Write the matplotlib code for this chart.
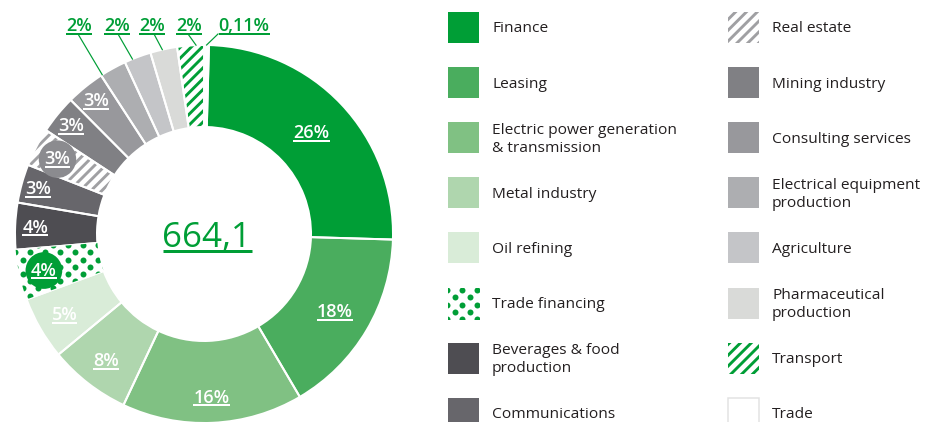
import numpy as np
import matplotlib.pyplot as plt
from matplotlib.patches import Rectangle

W, H, DPI = 926, 422, 130

# sectors in chart order, clockwise from the top
sectors = ["Finance", "Leasing", "Electric power generation\n& transmission", "Metal industry",
           "Oil refining", "Trade financing", "Beverages & food\nproduction", "Communications",
           "Real estate", "Mining industry", "Consulting services",
           "Electrical equipment\nproduction", "Agriculture", "Pharmaceutical\nproduction",
           "Transport", "Trade"]
pct_labels = ["26%", "18%", "16%", "8%", "5%", "4%", "4%", "3%", "3%", "3%", "3%",
              "2%", "2%", "2%", "2%", "0,11%"]
# slice sizes as drawn in the picture (% of the circle)
shares = [25.1, 16.1, 15.5, 7.0, 5.4, 4.3, 4.0, 3.3, 3.3, 3.3, 3.3, 2.3, 2.3, 2.3, 2.3, 0.4]
total = "664,1"

GREEN = "#009e36"
face = [GREEN, "#4aad5e", "#80c183", "#afd6ae", "#d9ecd8", "white", "#4e4d52", "#67666b",
        "white", "#808084", "#98989c", "#adaeb1", "#c4c5c8", "#d9dad8", "white", "white"]
hatch = [None] * 16
hatch[8] = "////"
hatch[14] = "////"
hatch_col = ["none"] * 16
hatch_col[8] = "#a0a0a3"
hatch_col[14] = GREEN

plt.rcParams['font.family'] = ['Open Sans', 'DejaVu Sans']
plt.rcParams['hatch.linewidth'] = 1.6


def Y(y):
    # picture rows (from top) -> axis coords (from bottom)
    return H - y


def px(p):
    return p * 72 / DPI


fig = plt.figure(figsize=(W / DPI, H / DPI), dpi=DPI)
ax = fig.add_axes([0, 0, 1, 1])

cx, cy = 204, Y(234)
r_out, ring = 189, 82
start = 88.5

wedges, _ = ax.pie(shares, colors=face, center=(cx, cy), radius=r_out, startangle=start,
                   counterclock=False, wedgeprops=dict(width=ring, linewidth=0))
for w, h, hc in zip(wedges, hatch, hatch_col):
    w.set_edgecolor(hc)
    w.set_linewidth(0)
    if h:
        w.set_hatch(h)
# white separators
ax.pie(shares, center=(cx, cy), radius=r_out, startangle=start, counterclock=False,
       wedgeprops=dict(width=ring, fill=False, edgecolor="white", linewidth=px(2)))

ax.set_xlim(0, W)
ax.set_ylim(0, H)
ax.set_aspect('auto')
ax.axis('off')


def dot_fill(patch, x0, x1, y0, y1):
    xs, ys = [], []
    for i, yy in enumerate(np.arange(y0, y1, 7.2)):
        shift = 7.5 if i % 2 else 0
        for xx in np.arange(x0 + shift, x1, 15):
            xs.append(xx)
            ys.append(yy)
    sc = ax.scatter(xs, ys, s=11, color=GREEN, linewidths=0, zorder=2)
    sc.set_clip_path(patch)


dot_fill(wedges[5], 0, 120, Y(310), Y(235))

underlines = []

# labels inside the ring
label_r = [148, 152, 163, 160, 161, 164, 169, 172, 165, 172, 172]
for i in range(11):
    w = wedges[i]
    a = np.deg2rad((w.theta1 + w.theta2) / 2)
    x = cx + label_r[i] * np.cos(a)
    y = cy + label_r[i] * np.sin(a) - 6
    bbox = None
    if i == 5:
        bbox = dict(boxstyle="circle,pad=0.3", fc=GREEN, ec="none")
    if i == 8:
        bbox = dict(boxstyle="circle,pad=0.32", fc="#8b8b8f", ec="none")
    t = ax.text(x, y, pct_labels[i], ha='center', va='baseline', color='white',
                fontsize=10, fontweight='semibold', bbox=bbox, zorder=4)
    underlines.append((t, y - 2.5, 2, 'white'))

# callouts for the small slices on top
callout_x = [79, 117, 152, 189, 244]
anchor_x = [78, 118, 154, 188, 218]
lead_frac = [0.05, 0.3, 0.45, 0.7, 0.5]
for k, i in enumerate(range(11, 16)):
    w = wedges[i]
    a = np.deg2rad(w.theta2 - lead_frac[k] * (w.theta2 - w.theta1))
    ex, ey = cx + r_out * np.cos(a), cy + r_out * np.sin(a)
    ax.plot([anchor_x[k], ex], [Y(34), ey], color=GREEN, lw=px(1.2), zorder=3)
    t = ax.text(callout_x[k], Y(31), pct_labels[i], ha='center', va='baseline', color=GREEN,
                fontsize=10, fontweight='semibold', zorder=4)
    underlines.append((t, Y(33.5), 2, GREEN))

# total in the centre
t = ax.text(207, Y(247), total, ha='center', va='baseline', color=GREEN, fontsize=px(35))
underlines.append((t, Y(251), 3, GREEN))

# legend
for i, name in enumerate(sectors):
    col, row = divmod(i, 8)
    sx = [448, 728][col]
    yc = Y(27.5 + 55.1 * row)
    if i == 15:
        sq = Rectangle((sx, yc - 15.5), 31, 31, facecolor='white', edgecolor='#e2e2e2',
                       linewidth=px(1.5))
    else:
        sq = Rectangle((sx, yc - 15.5), 31, 31, facecolor=face[i], edgecolor=hatch_col[i],
                       linewidth=0, hatch=hatch[i])
    ax.add_patch(sq)
    if i == 5:
        dot_fill(sq, sx - 1, sx + 33, yc - 16, yc + 18)
    ax.text(sx + 44, yc - 1.5, name, ha='left', va='center', fontsize=px(15.5), color='#231f20',
            linespacing=1.3)

fig.canvas.draw()
r = fig.canvas.get_renderer()
for t, yl, lw, c in underlines:
    bb = t.get_window_extent(r)
    ax.plot([bb.x0, bb.x1], [yl, yl], color=c, lw=px(lw), solid_capstyle='butt', zorder=5)

fig.savefig('out.png', dpi=DPI)
